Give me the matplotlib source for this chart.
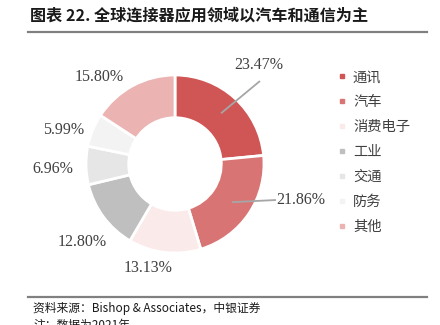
import numpy as np
import matplotlib.pyplot as plt
from matplotlib.lines import Line2D

plt.rcParams['font.family'] = ['Noto Sans CJK SC', 'DejaVu Sans']

# share of global connector demand by end market (%)
categories = ['通讯', '汽车', '消费电子', '工业', '交通', '防务', '其他']
shares = [23.47, 21.86, 13.13, 12.80, 6.96, 5.99, 15.80]
colors = ['#D05656', '#D97474', '#FAEAEA', '#BFBFBF', '#E6E6E6', '#F3F3F3', '#EBB3B1']

title = '图表 22. 全球连接器应用领域以汽车和通信为主'
source = '资料来源：Bishop & Associates，中银证券'
note = '注：数据为2021年'

W, H = 440, 325
fig = plt.figure(figsize=(W / 100, H / 100), dpi=100)
ax = fig.add_axes([0, 0, 1, 1])

cx, cy, r = 175, H - 164, 89
wedges, _ = ax.pie(shares, colors=colors, startangle=90, counterclock=False,
                   center=(cx, cy), radius=r, frame=True,
                   wedgeprops=dict(width=r * 0.48, edgecolor='white', linewidth=2))
ax.set_xlim(0, W)
ax.set_ylim(0, H)
ax.set_aspect('equal')
ax.axis('off')

# value labels placed around the ring (pixel layout, y from top)
label_pos = [(259, 65), (301, 200), (148, 268), (82, 242), (53, 169), (64, 130), (99, 77)]
lfont = dict(family='Liberation Serif', fontsize=11.5, color='#404040', ha='center', va='center')
for val, (lx, ly) in zip(shares, label_pos):
    ax.text(lx, H - ly, f'{val:.2f}%', **lfont)

# leader lines for the two largest slices
mid = 90 - (np.cumsum(shares) - np.array(shares) / 2) * 3.6
rm = r * 0.77
ends = [(260, 81), (276, 200)]
for i, (ex, ey) in enumerate(ends):
    a = np.deg2rad(mid[i])
    ax.plot([cx + rm * np.cos(a), ex], [cy + rm * np.sin(a), H - ey],
            color='#A6A6A6', lw=1.3, solid_capstyle='butt')

# legend
handles = [Line2D([], [], marker='s', ls='', color=c, markersize=3.2) for c in colors]
leg = ax.legend(handles, categories, loc='upper left', bbox_to_anchor=(0.755, 0.802),
                frameon=False, fontsize=10.3, labelspacing=0.77, handlelength=0.6,
                handletextpad=0.45, borderaxespad=0)
for t in leg.get_texts():
    t.set_color('#404040')

# title, rules and source
fig.text(30 / W, 1 - 15 / H, title, fontsize=11.6, fontweight='bold', color='#1A1A1A',
         va='center', ha='left')
ax.plot([28, 427], [H - 32, H - 32], color='#808080', lw=1.6)
ax.plot([28, 427], [H - 297, H - 297], color='#808080', lw=1.6)
fig.text(33 / W, 1 - 308 / H, source, fontsize=8.5, color='#1A1A1A', va='center', ha='left',
         family=['Noto Sans CJK SC', 'Liberation Serif'], style='italic')
fig.text(33 / W, 1 - 325 / H, note, fontsize=8.5, color='#1A1A1A', va='center', ha='left')

fig.savefig('out.png', dpi=100)
